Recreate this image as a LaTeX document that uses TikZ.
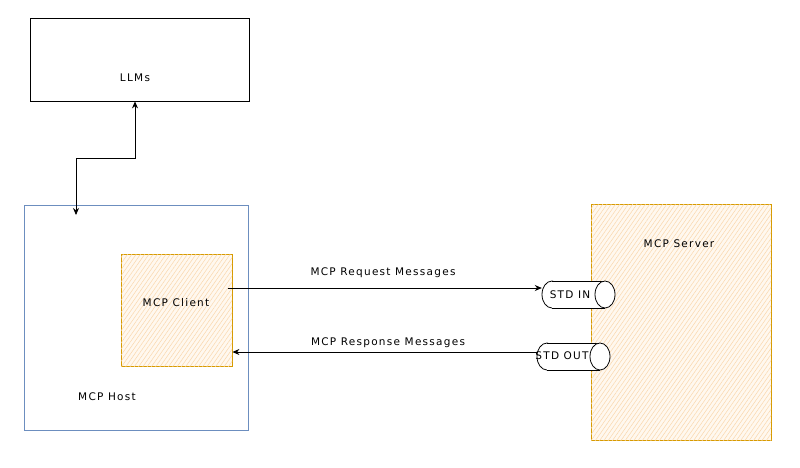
\documentclass[tikz,border=0pt]{standalone}
\usepackage{fontspec}
\setmainfont[LetterSpace=12]{DejaVu Sans}
\usetikzlibrary{patterns.meta,arrows.meta}
\definecolor{hostblue}{HTML}{6C8EBF}
\definecolor{orstroke}{HTML}{D79B00}
\definecolor{orfill}{HTML}{FFF8EF}
\definecolor{orhatch}{HTML}{FAD7AC}
\tikzset{
  lbl/.style={font=\fontsize{10.5}{12}\selectfont, text=black},
  plainbox/.style={draw=black, line width=0.8pt, fill=white, inner sep=0pt},
  hostbox/.style={draw=hostblue, line width=0.8pt, inner sep=0pt},
  orbox/.style={draw=orstroke, line width=0.8pt, fill=orfill, inner sep=0pt,
     postaction={pattern={Lines[angle=55, distance=3.5pt, line width=0.5pt]}, pattern color=orhatch}},
  portanchor/.style={minimum width=73pt, minimum height=27pt, inner sep=0pt},
  portline/.style={draw=black, line width=0.8pt, fill=white},
  conn/.style={draw=black, line width=0.8pt, -{Stealth[length=7pt,width=6pt]}},
  dconn/.style={draw=black, line width=0.8pt, {Stealth[length=7pt,width=6pt]}-{Stealth[length=7pt,width=6pt]}}
}
\newcommand{\myport}[2]{% #1 x center, #2 y center
  \path[portline] (#1-26.5,#2) ellipse [x radius=10, y radius=13.5];
  \fill[white] (#1-26.5,#2-13.5) rectangle (#1+26.5,#2+13.5);
  \draw[line width=0.8pt] (#1-26.5,#2-13.5) -- (#1+26.5,#2-13.5)
                          (#1-26.5,#2+13.5) -- (#1+26.5,#2+13.5);
  \path[portline] (#1+26.5,#2) ellipse [x radius=10, y radius=13.5];
}
\begin{document}
\begin{tikzpicture}[x=1pt,y=-1pt]
\useasboundingbox[fill=white] (0,0) rectangle (800,467);
% LLMs
\node[plainbox, minimum width=219pt, minimum height=83pt] (llm) at (139.5,59.5) {};
\node[lbl] (llmt) at (135,78) {LLMs};
% host
\node[hostbox, minimum width=224pt, minimum height=225pt] (host) at (136,317.5) {};
\node[lbl] (hostt) at (107,397) {MCP Host};
\coordinate (hostin) at (76,215);
% client
\node[orbox, minimum width=111pt, minimum height=112pt] (client) at (176.5,310) {};
\node[lbl] (clientt) at (176,303) {MCP Client};
% server
\node[orbox, minimum width=180pt, minimum height=236pt] (server) at (681,322) {};
\node[lbl] (servert) at (679,244) {MCP Server};
% ports
\myport{578.5}{294.5}
\node[portanchor] (stdin) at (578.5,294.5) {};
\node[lbl] (stdint) at (570,294.5) {STD IN};
\myport{573.5}{356.5}
\node[portanchor] (stdout) at (573.5,356.5) {};
\node[lbl] (stdoutt) at (562,356) {STD OUT};
% connectors
\draw[dconn] (hostin) -- (76,158) -- (135,158) -- (llm.south -| 135,0);
\coordinate (reqs) at (228,288);
\draw[conn] (reqs) -- (stdin.west |- reqs);
\node[lbl] (reql) at (383,273) {MCP Request Messages};
\coordinate (resE) at (client.east |- 0,352);
\draw[conn] (stdout.west |- resE) -- (resE);
\node[lbl] (resl) at (388,343) {MCP Response Messages};
\end{tikzpicture}
\end{document}
